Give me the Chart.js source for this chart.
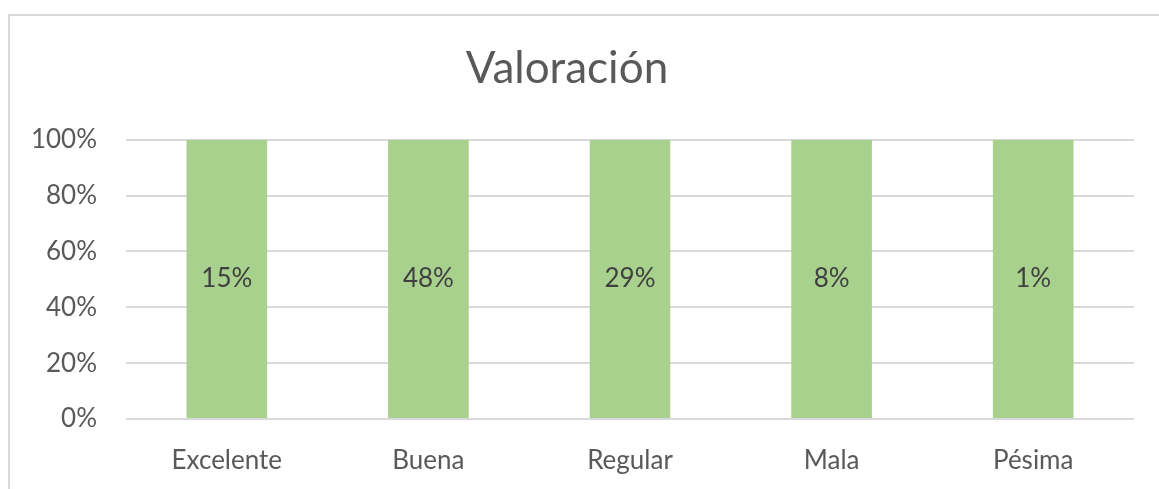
<!DOCTYPE html>
<html>
<head>
<meta charset="utf-8">
<script src="https://cdn.jsdelivr.net/npm/chart.js@4"></script>
<style>
    html, body { margin: 0; padding: 0; background: #ffffff; overflow: hidden; }
    #frame {
        position: absolute; left: 8px; top: 14px;
        width: 1200px; height: 520px;
        border: 2px solid #d9d9d9; box-sizing: border-box;
    }
    #wrap { position: absolute; left: 0; top: 0; width: 1159px; height: 489px; }
</style>
</head>
<body>
<div id="frame"></div>
<div id="wrap"><canvas id="chart"></canvas></div>
<script>
// Datos del gráfico (columnas apiladas al 100%)
const categorias = ["Excelente", "Buena", "Regular", "Mala", "Pésima"];
const valoraciones = [15, 48, 29, 8, 1];          // porcentaje de respuestas
const ticksEje = [0, 20, 40, 60, 80, 100];

// Con una sola serie cada columna es el 100% de su categoría
const alturas = valoraciones.map(v => v / v * 100);

const fuente = "Lato, 'Open Sans', sans-serif";

// Plugin para escribir la etiqueta en el centro de cada barra
const etiquetas = {
    id: "etiquetas",
    afterDatasetsDraw(chart) {
        const ctx = chart.ctx;
        const meta = chart.getDatasetMeta(0);
        ctx.save();
        ctx.font = "26px " + fuente;
        ctx.fillStyle = "#404040";
        ctx.textAlign = "center";
        ctx.textBaseline = "middle";
        meta.data.forEach((bar, i) => {
            let y = (bar.y + bar.base) / 2;
            ctx.fillText(valoraciones[i] + "%", bar.x, y);
        });
        ctx.restore();
    }
};

new Chart(document.getElementById("chart"), {
    type: "bar",
    data: {
        labels: categorias,
        datasets: [{
            label: "Valoración",
            data: alturas,
            backgroundColor: "#a9d18e",
            barPercentage: 0.4,
            categoryPercentage: 1
        }]
    },
    options: {
        responsive: true,
        maintainAspectRatio: false,
        animation: false,
        layout: { padding: { left: 0, right: 25, top: 0, bottom: 0 } },
        plugins: {
            legend: { display: false },
            tooltip: { enabled: false },
            title: {
                display: true,
                text: "Valoración",
                color: "#595959",
                font: { family: fuente, size: 44, weight: "normal", lineHeight: 1.2 },
                padding: { top: 42, bottom: 45 }
            }
        },
        scales: {
            x: {
                grid: { display: false },
                border: { display: false },
                ticks: {
                    color: "#595959",
                    font: { family: fuente, size: 26 },
                    padding: 18
                },
                afterFit(axis) { axis.height = 70; }
            },
            y: {
                min: 0,
                max: 100,
                afterBuildTicks(axis) { axis.ticks = ticksEje.map(v => ({ value: v })); },
                grid: { color: "#d9d9d9", lineWidth: 2, drawTicks: false },
                border: { display: false },
                ticks: {
                    color: "#595959",
                    font: { family: fuente, size: 26 },
                    padding: 29,
                    callback: v => v + "%"
                },
                afterFit(axis) { axis.width = 126; }
            }
        }
    },
    plugins: [etiquetas]
});
</script>
</body>
</html>
